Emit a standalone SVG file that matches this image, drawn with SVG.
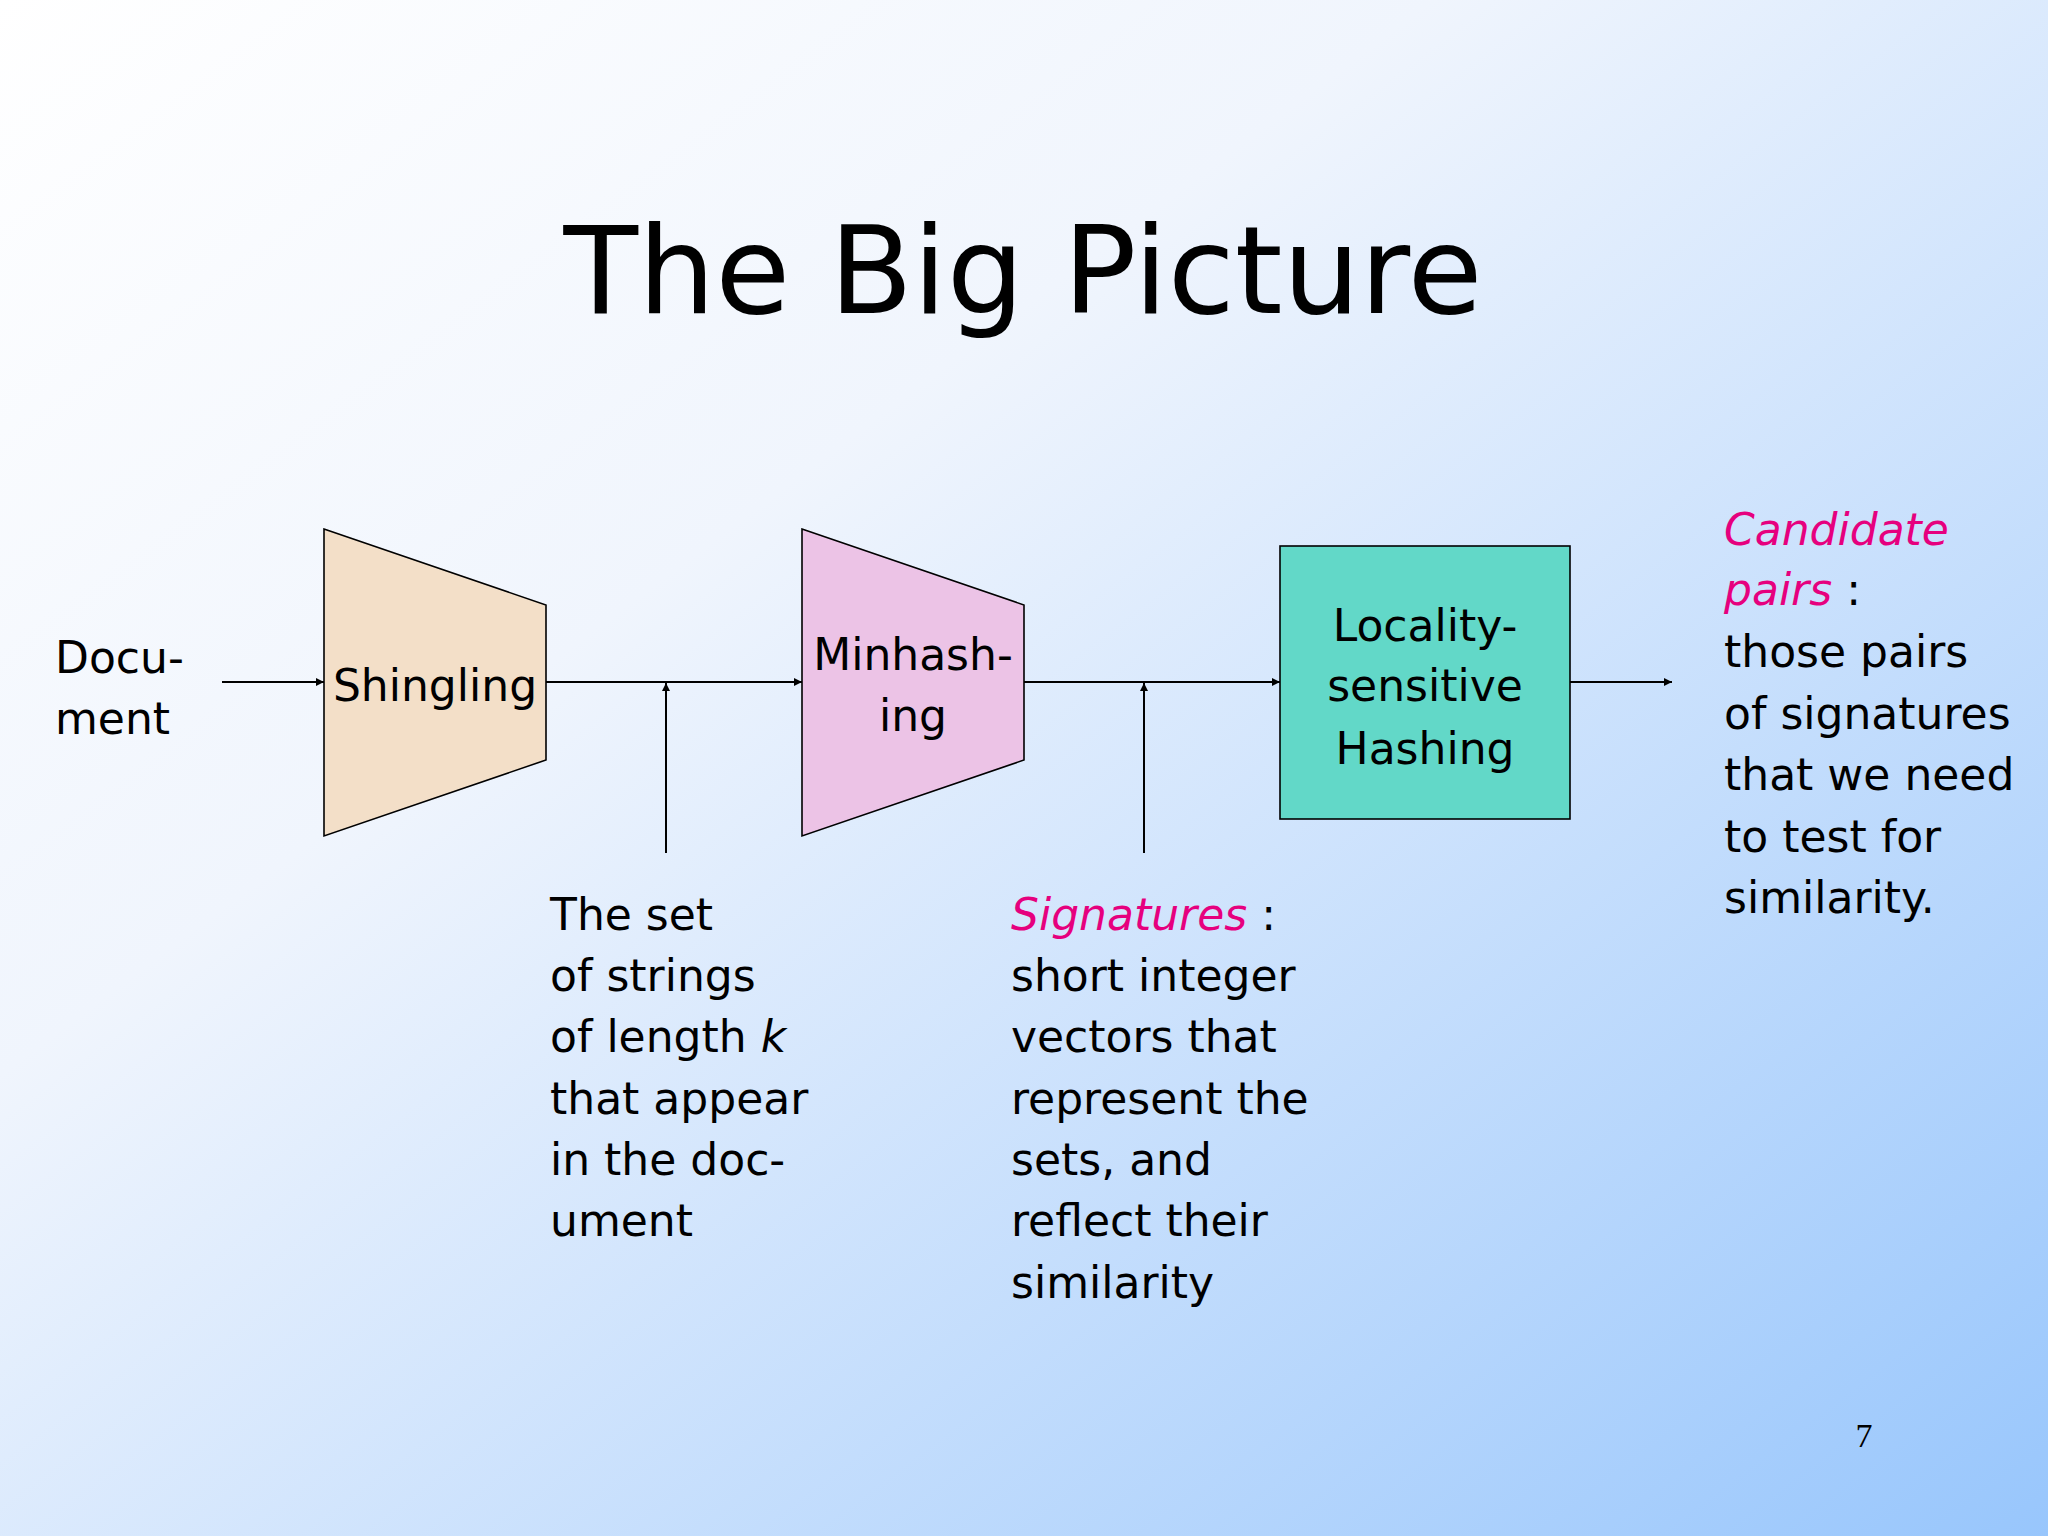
<svg xmlns="http://www.w3.org/2000/svg" width="2048" height="1536" viewBox="0 0 2048 1536">
<defs>
<linearGradient id="bg" x1="0" y1="0" x2="1" y2="1">
<stop offset="0" stop-color="#ffffff"/><stop offset="0.35" stop-color="#f0f5fd"/><stop offset="1" stop-color="#98c6fc"/>
</linearGradient>
<marker id="ah" viewBox="0 0 10 10" refX="10" refY="5" markerWidth="8" markerHeight="8" markerUnits="userSpaceOnUse" orient="auto"><path d="M0,0 L10,5 L0,10 z" fill="#000"/></marker>
<style>
text{font-family:"DejaVu Sans",Verdana,sans-serif;font-size:44px;fill:#000}
.c{text-anchor:middle}
.p{fill:#e6007e;font-style:italic}
.n{stroke:#000;stroke-width:1.6}
.l{stroke:#000;stroke-width:2;fill:none;marker-end:url(#ah)}
</style>
</defs>
<rect width="2048" height="1536" fill="url(#bg)"/>
<text x="1023" y="313" class="c" style="font-size:122px">The Big Picture</text>
<g id="document"><text x="55" y="673">Docu-</text><text x="55" y="734">ment</text></g>
<g id="shingling"><polygon class="n" points="324,529 546,605 546,760 324,836" fill="#f3dfc8"/><text x="435" y="701" class="c">Shingling</text></g>
<g id="minhashing"><polygon class="n" points="802,529 1024,605 1024,760 802,836" fill="#ecc3e6"/><text x="913" y="670" class="c">Minhash-</text><text x="913" y="731" class="c">ing</text></g>
<g id="lsh"><rect class="n" x="1280" y="546" width="290" height="273" fill="#62d8c8"/><text x="1425" y="641" class="c">Locality-</text><text x="1425" y="701" class="c">sensitive</text><text x="1425" y="764" class="c">Hashing</text></g>
<g id="connectors">
<line class="l" x1="222" y1="682" x2="324" y2="682"/>
<line class="l" x1="546" y1="682" x2="802" y2="682"/>
<line class="l" x1="1024" y1="682" x2="1280" y2="682"/>
<line class="l" x1="1570" y1="682" x2="1672" y2="682"/>
<line class="l" x1="666" y1="853" x2="666" y2="683"/>
<line class="l" x1="1144" y1="853" x2="1144" y2="683"/>
</g>
<g id="candidates"><text x="1724" y="545" class="p">Candidate</text><text x="1724" y="605"><tspan class="p">pairs</tspan> :</text><text x="1724" y="667">those pairs</text><text x="1724" y="729">of signatures</text><text x="1724" y="790">that we need</text><text x="1724" y="852">to test for</text><text x="1724" y="913">similarity.</text></g>
<g id="setlabel"><text x="550" y="930">The set</text><text x="550" y="991">of strings</text><text x="550" y="1052">of length <tspan font-style="italic">k</tspan></text><text x="550" y="1114">that appear</text><text x="550" y="1175">in the doc-</text><text x="550" y="1236">ument</text></g>
<g id="signatures"><text x="1011" y="930"><tspan class="p">Signatures</tspan> :</text><text x="1011" y="991">short integer</text><text x="1011" y="1052">vectors that</text><text x="1011" y="1114">represent the</text><text x="1011" y="1175">sets, and</text><text x="1011" y="1236">reflect their</text><text x="1011" y="1298">similarity</text></g>
<text x="1864" y="1447" class="c" style="font-family:'Liberation Serif',serif;font-size:34px">7</text>
</svg>
